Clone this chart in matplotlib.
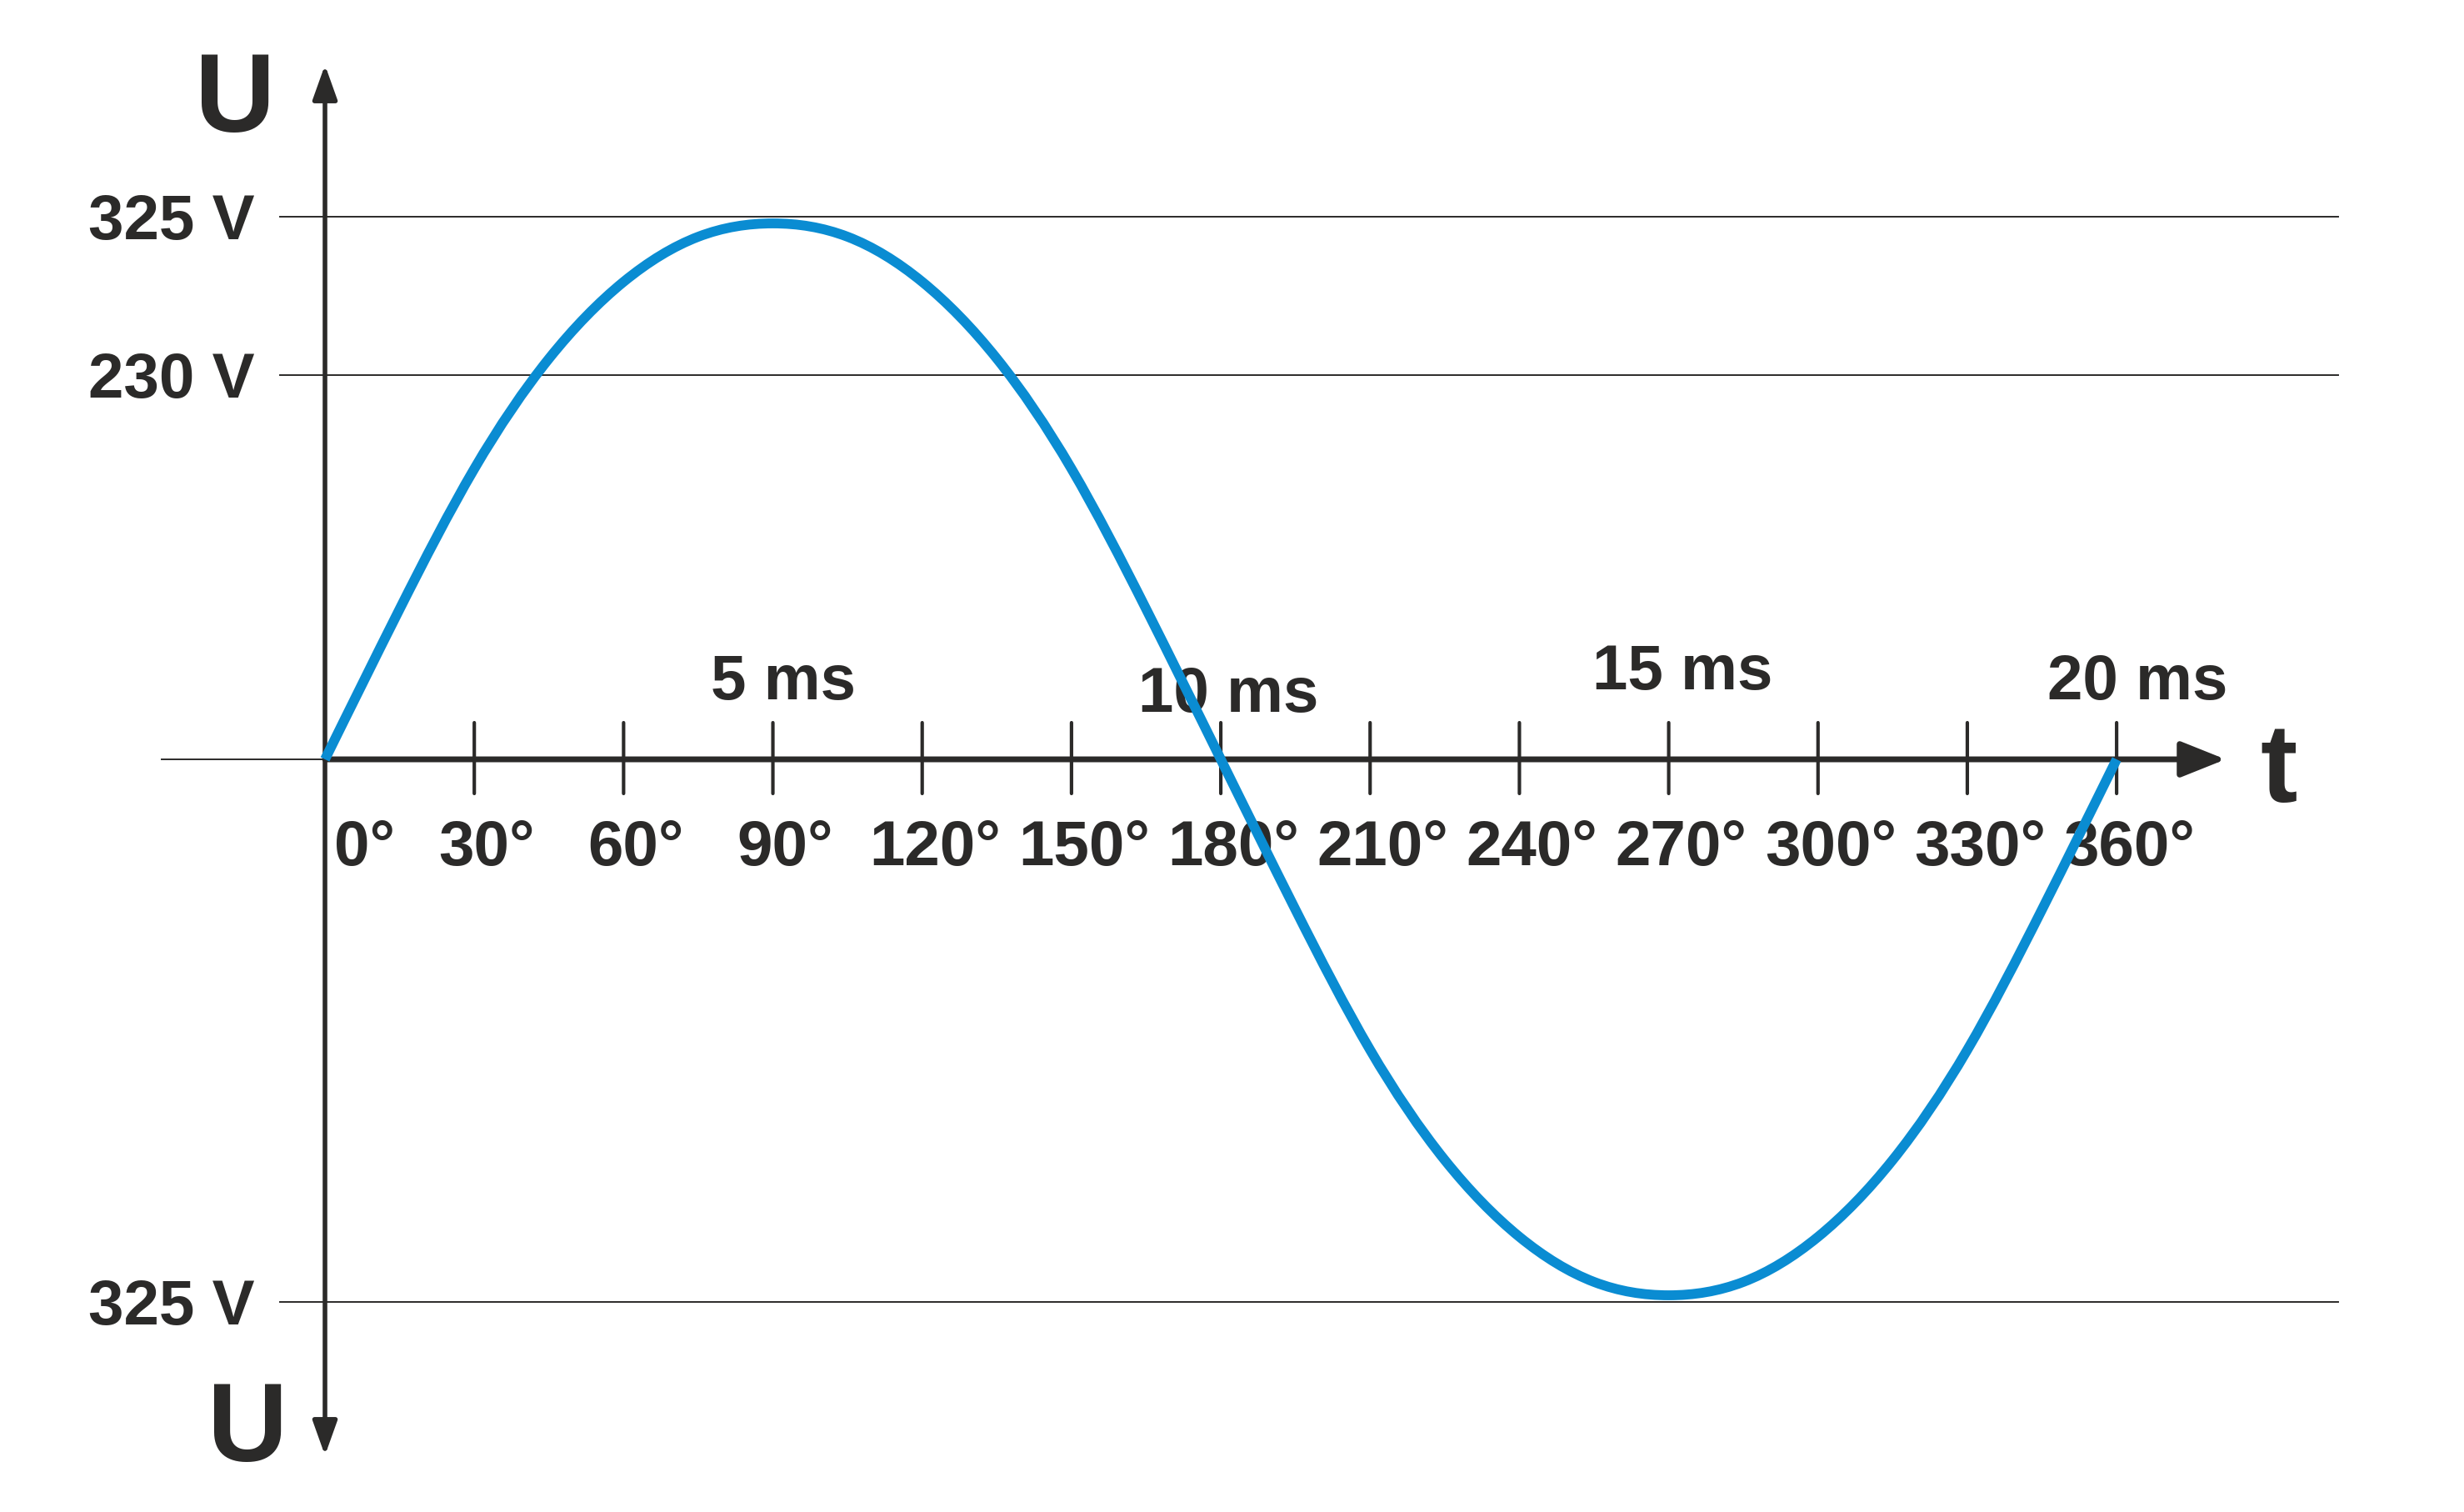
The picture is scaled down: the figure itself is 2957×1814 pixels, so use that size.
import numpy as np
import matplotlib
matplotlib.use("Agg")
import matplotlib.pyplot as plt
from matplotlib.path import Path
from matplotlib.patches import PathPatch

# data
level_values = [325, 230, -325]   # horizontal reference lines (V)
level_labels = ["325 V", "230 V", "325 V"]
angle_ticks = [0, 30, 60, 90, 120, 150, 180, 210, 240, 270, 300, 330, 360]
angle_labels = ["0°", "30°", "60°", "90°", "120°", "150°", "180°",
                "210°", "240°", "270°", "300°", "330°", "360°"]
ms_values = [5, 10, 15, 20]
ms_labels = ["5 ms", "10 ms", "15 ms", "20 ms"]
period_ms = 20

# voltage curve, every 15 degrees
curve_deg = [0, 15, 30, 45, 60, 75, 90, 105, 120, 135, 150, 165, 180,
             195, 210, 225, 240, 255, 270, 285, 300, 315, 330, 345, 360]
curve_volt = [0, 90, 174, 240, 286, 313, 321, 313, 286, 240, 174, 90, 0,
              -90, -174, -240, -286, -313, -321, -313, -286, -240, -174, -90, 0]

# layout / style
dark = "#2b2a29"
blue = "#0a8cd2"
fam = ["Liberation Sans", "DejaVu Sans"]
lab_fs = 55
big_fs = 96

fig = plt.figure(figsize=(29.57, 18.14), dpi=100)
ax = fig.add_axes([0, 0, 1, 1])
ax.set_xlim(-65.3, 429.8)
ax.set_ylim(-450.8, 454.8)
ax.set_axis_off()

# reference levels
for v in level_values:
    ax.plot([-9.0, 404.5], [v, v], color=dark, lw=1.4, zorder=1)
for v, lab in zip(level_values, level_labels):
    ax.annotate(lab, xy=(0, v), xytext=(-84, -27), textcoords="offset pixels",
                ha="right", va="baseline", fontsize=lab_fs, fontweight="bold",
                family=fam, color=dark)

# thin line left of origin
ax.plot([-32.8, 0], [0, 0], color=dark, lw=1.4, zorder=2)

# time axis with arrow
ax.annotate("", xy=(381.9, 0), xytext=(0, 0),
            arrowprops=dict(arrowstyle="-|>,head_length=1.5,head_width=0.6",
                            mutation_scale=22, lw=5, color=dark,
                            shrinkA=0, shrinkB=0), zorder=3)

# voltage axis with arrows both ways
ax.annotate("", xy=(0, 415.9), xytext=(0, -416.9),
            arrowprops=dict(arrowstyle="<|-|>,head_length=1.4,head_width=0.5",
                            mutation_scale=18, lw=4, color=dark,
                            shrinkA=0, shrinkB=0), zorder=3)

# ticks on the time axis
for a in angle_ticks[1:]:
    ax.annotate("", xy=(a, 0), xytext=(0, 44), textcoords="offset pixels",
                arrowprops=dict(arrowstyle="-", lw=3, color=dark,
                                shrinkA=0, shrinkB=0))
    ax.annotate("", xy=(a, 0), xytext=(0, -41), textcoords="offset pixels",
                arrowprops=dict(arrowstyle="-", lw=3, color=dark,
                                shrinkA=0, shrinkB=0))

# angle labels
for a, lab in zip(angle_ticks, angle_labels):
    if a == 0:
        ax.annotate(lab, xy=(a, 0), xytext=(11, -127), textcoords="offset pixels",
                    ha="left", va="baseline", fontsize=lab_fs, fontweight="bold",
                    family=fam, color=dark)
    else:
        ax.annotate(lab, xy=(a, 0), xytext=(15, -127), textcoords="offset pixels",
                    ha="center", va="baseline", fontsize=lab_fs, fontweight="bold",
                    family=fam, color=dark)

# ms labels
ms_offsets = [(12, 72), (9, 57), (17, 84), (25, 72)]
for m, lab, off in zip(ms_values, ms_labels, ms_offsets):
    ax.annotate(lab, xy=(m / period_ms * 360, 0), xytext=off,
                textcoords="offset pixels", ha="center", va="baseline",
                fontsize=lab_fs, fontweight="bold", family=fam, color=dark,
                zorder=4)

# the curve: periodic cubic spline through the read points, drawn as bezier path
x = np.array(curve_deg, dtype=float)
y = np.array(curve_volt, dtype=float)
h = x[1] - x[0]
m = len(x) - 1                      # number of intervals (last point == first)
A = np.zeros((m, m))
rhs = np.zeros(m)
for i in range(m):
    A[i, i] = 4.0
    A[i, (i - 1) % m] = 1.0
    A[i, (i + 1) % m] = 1.0
    rhs[i] = 6.0 * (y[(i + 1) % m] - 2 * y[i] + y[(i - 1) % m]) / h ** 2
M = np.linalg.solve(A, rhs)
M = np.append(M, M[0])
slope = np.empty(m + 1)
for i in range(m):
    slope[i] = (y[i + 1] - y[i]) / h - h * (2 * M[i] + M[i + 1]) / 6.0
slope[m] = slope[0]

verts = [(x[0], y[0])]
codes = [Path.MOVETO]
for i in range(m):
    verts += [(x[i] + h / 3, y[i] + slope[i] * h / 3),
              (x[i + 1] - h / 3, y[i + 1] - slope[i + 1] * h / 3),
              (x[i + 1], y[i + 1])]
    codes += [Path.CURVE4] * 3
curve = PathPatch(Path(verts, codes), facecolor="none", edgecolor=blue,
                  lw=8.5, capstyle="butt", zorder=5)
ax.add_patch(curve)

# axis letters
ax.annotate("U", xy=(0, 0), xytext=(-108, 753), textcoords="offset pixels",
            ha="center", va="baseline", fontsize=big_fs, fontweight="bold",
            family=fam, color=dark)
ax.annotate("U", xy=(0, 0), xytext=(-93, -842), textcoords="offset pixels",
            ha="center", va="baseline", fontsize=big_fs, fontweight="bold",
            family=fam, color=dark)
ax.annotate("t", xy=(381.9, 0), xytext=(64, -51), textcoords="offset pixels",
            ha="center", va="baseline", fontsize=big_fs, fontweight="bold",
            family=fam, color=dark)

fig.savefig("out.png", dpi=100, facecolor="white")
